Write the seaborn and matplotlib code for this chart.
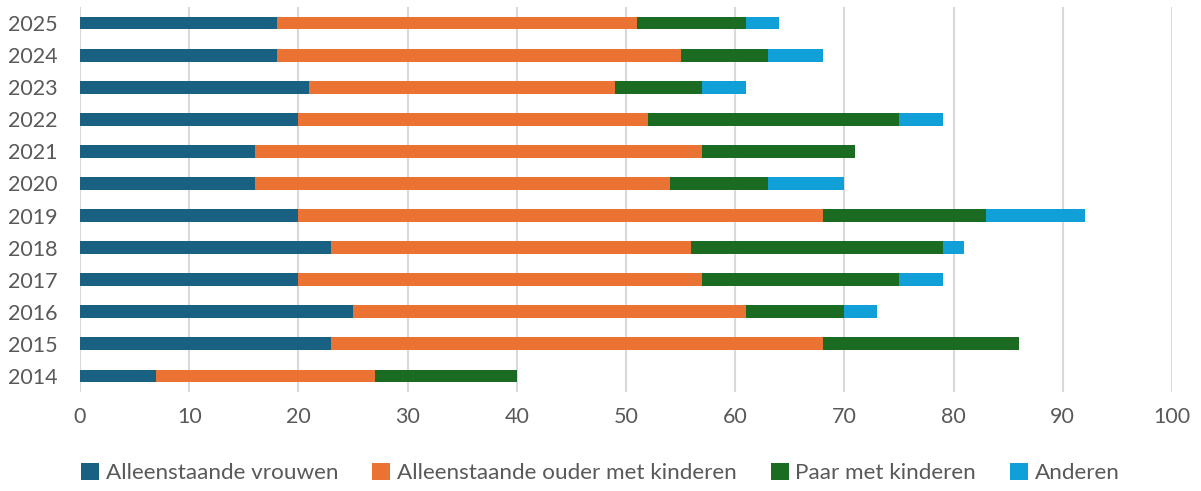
import numpy as np
import pandas as pd
import matplotlib
matplotlib.use("Agg")
import matplotlib.pyplot as plt
import seaborn as sns
from matplotlib.patches import Patch

# data
years = ["2025", "2024", "2023", "2022", "2021", "2020", "2019", "2018", "2017", "2016", "2015", "2014"]
vrouwen = [18, 18, 21, 20, 16, 16, 20, 23, 20, 25, 23, 7]
ouder = [33, 37, 28, 32, 41, 38, 48, 33, 37, 36, 45, 20]
paar = [10, 8, 8, 23, 14, 9, 15, 23, 18, 9, 18, 13]
anderen = [3, 5, 4, 4, 0, 7, 9, 2, 4, 3, 0, 0]

series = ["Alleenstaande vrouwen", "Alleenstaande ouder met kinderen", "Paar met kinderen", "Anderen"]
colors = ["#186183", "#EA7334", "#1B6B23", "#109FD6"]
text_color = "#595959"

df = pd.DataFrame({"year": years, series[0]: vrouwen, series[1]: ouder,
                   series[2]: paar, series[3]: anderen})

# cumulative sums for stacking
cum = df[series].cumsum(axis=1)
cum["year"] = df["year"]

sns.set_style("white")
plt.rcParams["font.family"] = ["Lato", "DejaVu Sans"]

fig = plt.figure(figsize=(12.01, 4.91), dpi=100)
ax = fig.add_axes([0.0666, 0.2016, 0.9092, 0.7841])

# draw back to front so each shorter cumulative bar sits on top
for name, col in reversed(list(zip(series, colors))):
    sns.barplot(data=cum, x=name, y="year", order=years, color=col,
                width=0.4, orient="h", saturation=1, ax=ax, linewidth=0)

ax.set_xlim(0, 100)
ax.set_ylim(len(years) - 0.5, -0.5)
ax.set_xticks(range(0, 101, 10))
ax.grid(axis="x", color="#D9D9D9", linewidth=1.5)
ax.set_axisbelow(True)
for s in ax.spines.values():
    s.set_visible(False)
ax.set_xlabel("")
ax.set_ylabel("")
ax.tick_params(axis="both", length=0, labelsize=15.5, labelcolor=text_color)
ax.tick_params(axis="x", pad=11)
ax.tick_params(axis="y", pad=16)

handles = [Patch(facecolor=c, edgecolor="none") for c in colors]
fig.legend(handles, series, loc="lower center", bbox_to_anchor=(0.5, -0.025), ncol=4,
           frameon=False, fontsize=16.2, labelcolor=text_color, handlelength=0.8,
           handleheight=0.8, handletextpad=0.3, columnspacing=1.5)

fig.savefig("out.png", dpi=100)
